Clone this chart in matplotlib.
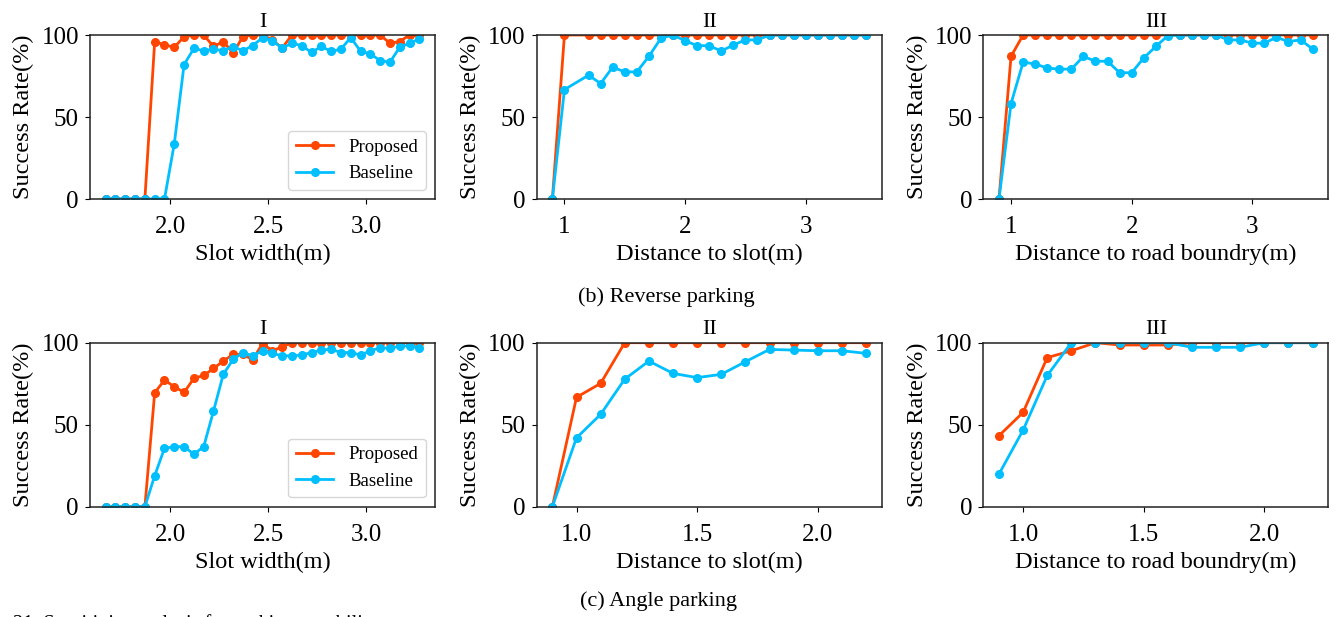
import matplotlib
matplotlib.use('Agg')
import matplotlib.pyplot as plt

# slot width sweep (m), used by both I panels
width_x = [1.67, 1.72, 1.77, 1.82, 1.87, 1.92, 1.97, 2.02, 2.07, 2.12, 2.17,
           2.22, 2.27, 2.32, 2.37, 2.42, 2.47, 2.52, 2.57, 2.62, 2.67, 2.72,
           2.77, 2.82, 2.87, 2.92, 2.97, 3.02, 3.07, 3.12, 3.17, 3.22, 3.27]

# (b) reverse parking
rev_width_prop = [0, 0, 0, 0, 0, 96, 94, 92.5, 99, 100, 100, 93, 96, 89, 99, 100,
                  100, 97, 92, 100, 100, 100, 100, 100, 100, 100, 100, 100, 100,
                  95, 96, 100, 100]
rev_width_base = [0, 0, 0, 0, 0, 0, 0, 33.7, 82, 91.8, 90.4, 91.4, 90.4, 92.9,
                  90.4, 93.5, 98.4, 96.5, 92, 95, 93.5, 89.4, 93, 90, 91.4, 98.4,
                  90.2, 88.5, 84.4, 83.4, 92.5, 95, 97.6]

rev_dist_x = [0.9, 1.0, 1.2, 1.3, 1.4, 1.5, 1.6, 1.7, 1.8, 1.9, 2.0, 2.1, 2.2,
              2.3, 2.4, 2.5, 2.6, 2.7, 2.8, 2.9, 3.0, 3.1, 3.2, 3.3, 3.4, 3.5]
rev_dist_prop = [0, 100, 100, 100, 100, 100, 100, 100, 100, 100, 100, 100, 100,
                 100, 100, 100, 100, 100, 100, 100, 100, 100, 100, 100, 100, 100]
rev_dist_base = [0, 66.7, 75.5, 70.4, 80.4, 77.5, 77.5, 87, 98, 100, 96.5, 93.5,
                 93.5, 90.2, 93.9, 97, 97, 100, 100, 100, 100, 100, 100, 100, 100, 100]

rev_road_x = [0.9, 1.0, 1.1, 1.2, 1.3, 1.4, 1.5, 1.6, 1.7, 1.8, 1.9, 2.0, 2.1,
              2.2, 2.3, 2.4, 2.5, 2.6, 2.7, 2.8, 2.9, 3.0, 3.1, 3.2, 3.3, 3.4, 3.5]
rev_road_prop = [0, 87, 100, 100, 100, 100, 100, 100, 100, 100, 100, 100, 100,
                 100, 100, 100, 100, 100, 100, 100, 100, 100, 100, 100, 100, 100, 100]
rev_road_base = [0, 58.2, 83.4, 82.4, 79.8, 79.2, 79.2, 86.9, 84, 84, 77, 77, 86,
                 93, 99.6, 100, 100, 100, 100, 97, 97, 95, 95, 98.6, 96, 97, 91.5]

# (c) angle parking
ang_width_prop = [0, 0, 0, 0, 0, 69.5, 77.2, 73.2, 69.7, 78.3, 80, 84.3, 88.8,
                  92.9, 92.9, 89.6, 99.5, 95, 97.5, 100, 100, 100, 100, 100, 100,
                  100, 100, 100, 100, 100, 100, 100, 100]
ang_width_base = [0, 0, 0, 0, 0, 18.9, 35.6, 36.6, 36.6, 32, 36.6, 58.3, 80.7,
                  89.8, 94, 92, 95, 93.5, 92, 92, 92.5, 94, 95.5, 96, 94, 94, 92.5,
                  95, 97, 96.5, 98, 98, 97]

ang_x = [0.9, 1.0, 1.1, 1.2, 1.3, 1.4, 1.5, 1.6, 1.7, 1.8, 1.9, 2.0, 2.1, 2.2]
ang_dist_prop = [0, 66.7, 75.2, 100, 100, 100, 100, 100, 100, 100, 100, 100, 100, 100]
ang_dist_base = [0, 42, 56.3, 77.8, 88.8, 81.3, 78.7, 80.7, 88.4, 95.9, 95.5, 95.1, 95.1, 93.5]
ang_road_prop = [43.3, 57.5, 90.9, 95.1, 100, 98.6, 98.6, 98.6, 100, 100, 100, 100, 100, 100]
ang_road_base = [19.9, 46.7, 80, 100, 100, 100, 100, 100, 97.2, 97.2, 97.2, 100, 100, 100]

titles = ['I', 'II', 'III']
xlabels = ['Slot width(m)', 'Distance to slot(m)', 'Distance to road boundry(m)']
top_xticks = [[2.0, 2.5, 3.0], [1, 2, 3], [1, 2, 3]]
bot_xticks = [[2.0, 2.5, 3.0], [1.0, 1.5, 2.0], [1.0, 1.5, 2.0]]

PROP_COLOR = '#ff4500'
BASE_COLOR = '#00bfff'

plt.rcParams['font.family'] = ['Liberation Serif', 'DejaVu Serif']

W, H = 1341, 617
fig = plt.figure(figsize=(W / 100, H / 100), dpi=100)

lefts = [90, 536.7, 983.3]
tops = [35, 342.7]
AX_W, AX_H = 345, 164

panels = [
    [(width_x, rev_width_prop, rev_width_base),
     (rev_dist_x, rev_dist_prop, rev_dist_base),
     (rev_road_x, rev_road_prop, rev_road_base)],
    [(width_x, ang_width_prop, ang_width_base),
     (ang_x, ang_dist_prop, ang_dist_base),
     (ang_x, ang_road_prop, ang_road_base)],
]

for r, row in enumerate(panels):
    for c, (x, prop, base) in enumerate(row):
        l, t = lefts[c], tops[r]
        ax = fig.add_axes([l / W, 1 - (t + AX_H) / H, AX_W / W, AX_H / H])
        ax.plot(x, prop, '-o', color=PROP_COLOR, lw=2, ms=5.5, label='Proposed')
        ax.plot(x, base, '-o', color=BASE_COLOR, lw=2, ms=5.5, label='Baseline')
        ax.set_ylim(0, 100)
        ax.set_yticks([0, 50, 100])
        ax.set_xticks(top_xticks[c] if r == 0 else bot_xticks[c])
        ax.tick_params(labelsize=18)
        ax.tick_params(axis='x', pad=9)
        ax.tick_params(axis='y', pad=4.5)
        ax.set_title(titles[c], fontsize=16, pad=6)
        ax.set_xlabel(xlabels[c], fontsize=17.5, labelpad=4)
        ax.set_ylabel('Success Rate(%)', fontsize=17.5, labelpad=5)
        for s in ax.spines.values():
            s.set_linewidth(1.1)
            s.set_color('#222222')
        if c == 0:
            ax.legend(loc='lower right', fontsize=13.5)

fig.text(666 / W, 1 - 297 / H, '(b) Reverse parking', ha='center', va='center', fontsize=16)
fig.text(659 / W, 1 - 601 / H, '(c) Angle parking', ha='center', va='center', fontsize=16)
fig.text(13 / W, 1 - 614 / H, '21. Sensitivity analysis for parking capability',
         ha='left', va='top', fontsize=14.5)

fig.savefig('out.png', dpi=100)
